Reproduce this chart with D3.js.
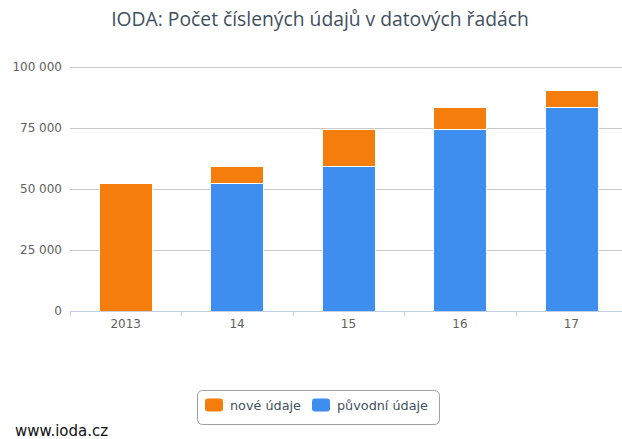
<!DOCTYPE html>
<html lang="cs">
<head>
  <meta charset="utf-8">
  <title>IODA</title>
  <script src="https://d3js.org/d3.v7.min.js"></script>
  <style>
    body { margin: 0; background: #fff; }
    svg text { font-family: "DejaVu Sans", sans-serif; }
  </style>
</head>
<body>
<div id="chart"></div>
<script>
"use strict"
// data
var roky = ["2013", "14", "15", "16", "17"];
var noveUdaje = [52300, 6900, 14900, 9200, 6700];
var puvodniUdaje = [0, 52400, 59500, 74600, 83800];
var yTicks = [0, 25000, 50000, 75000, 100000];
var nazvySerii = ["nové údaje", "původní údaje"];
var barvy = ["#f57d0b", "#3e8ef0"];

var W = 622, H = 439;
var margin = {top: 67, right: -5, bottom: 128, left: 70};
var sirka = W - margin.left - margin.right,
    vyska = H - margin.top - margin.bottom;

var svg = d3.select("#chart").append("svg")
  .attr("width", W).attr("height", H);

svg.append("text")
  .attr("x", 320).attr("y", 26)
  .attr("text-anchor", "middle")
  .attr("fill", "#3e4f60")
  .style("font-family", "'Open Sans', sans-serif")
  .style("font-size", "19.3px")
  .text("IODA: Počet číslených údajů v datových řadách");

var g = svg.append("g")
  .attr("transform", "translate(" + margin.left + "," + margin.top + ")");

var x = d3.scaleBand().domain(roky).range([0, sirka]).paddingInner(0.52).paddingOuter(0.26);
var y = d3.scaleLinear().domain([0, 100000]).range([vyska, 0]);

// gridlines
g.selectAll(".grid").data(yTicks.filter(d => d > 0)).enter()
  .append("line")
  .attr("x1", 0).attr("x2", sirka)
  .attr("y1", d => Math.round(y(d)) + 0.5).attr("y2", d => Math.round(y(d)) + 0.5)
  .attr("stroke", "#c8c8c8");

// y labels
g.selectAll(".ylab").data(yTicks).enter()
  .append("text")
  .attr("x", -8).attr("y", d => y(d) + 4)
  .attr("text-anchor", "end")
  .attr("fill", "#606060")
  .style("font-size", "12px")
  .text(d => d3.format(",")(d).replace(/,/g, " "));

// stacked bars (original at bottom, new on top)
var radky = roky.map((r, i) => ({rok: r, puvodni: puvodniUdaje[i], nove: noveUdaje[i]}));
var stack = d3.stack().keys(["puvodni", "nove"])(radky);
var barvaKlice = {puvodni: barvy[1], nove: barvy[0]};

stack.forEach(function(serie) {
  g.selectAll(null).data(serie.filter(d => d[1] > d[0])).enter()
    .append("rect")
    .attr("x", d => Math.round(x(d.data.rok)) + 0.5)
    .attr("width", Math.round(x.bandwidth()))
    .attr("y", d => Math.round(y(d[1])) + 0.5)
    .attr("height", d => Math.round(y(d[0])) - Math.round(y(d[1])))
    .attr("fill", barvaKlice[serie.key])
    .attr("stroke", "#fff")
    .attr("stroke-width", 1);
});

// x axis
var osaX = g.append("g").attr("transform", "translate(0," + vyska + ")");
osaX.append("line").attr("x1", 0).attr("x2", sirka).attr("y1", 0.5).attr("y2", 0.5)
  .attr("stroke", "#c0d0e0");
var hranice = d3.range(roky.length + 1).map(i => i * sirka / roky.length);
osaX.selectAll(".tick").data(hranice).enter()
  .append("line")
  .attr("x1", d => Math.round(d) + 0.5).attr("x2", d => Math.round(d) + 0.5)
  .attr("y1", 0).attr("y2", 5)
  .attr("stroke", "#c0d0e0");
osaX.selectAll(".xlab").data(roky).enter()
  .append("text")
  .attr("x", d => x(d) + x.bandwidth() / 2)
  .attr("y", 17)
  .attr("text-anchor", "middle")
  .attr("fill", "#606060")
  .style("font-size", "12px")
  .text(d => d);

// legend
var leg = svg.append("g").attr("transform", "translate(197,390)");
leg.append("rect").attr("x", 0.5).attr("y", 0.5).attr("width", 242).attr("height", 34)
  .attr("rx", 5).attr("fill", "#fff").attr("stroke", "#a0a0a0");
var polozkyX = [8, 115];
nazvySerii.forEach(function(n, i) {
  leg.append("rect").attr("x", polozkyX[i]).attr("y", 8.5).attr("width", 18).attr("height", 13)
    .attr("rx", 3).attr("fill", barvy[i]);
  leg.append("text").attr("x", polozkyX[i] + 25).attr("y", 20)
    .attr("fill", "#3e4f60").style("font-size", "12.8px").text(n);
});

svg.append("text").attr("x", 15).attr("y", 436)
  .attr("fill", "#111").style("font-size", "15px").text("www.ioda.cz");
</script>
</body>
</html>
